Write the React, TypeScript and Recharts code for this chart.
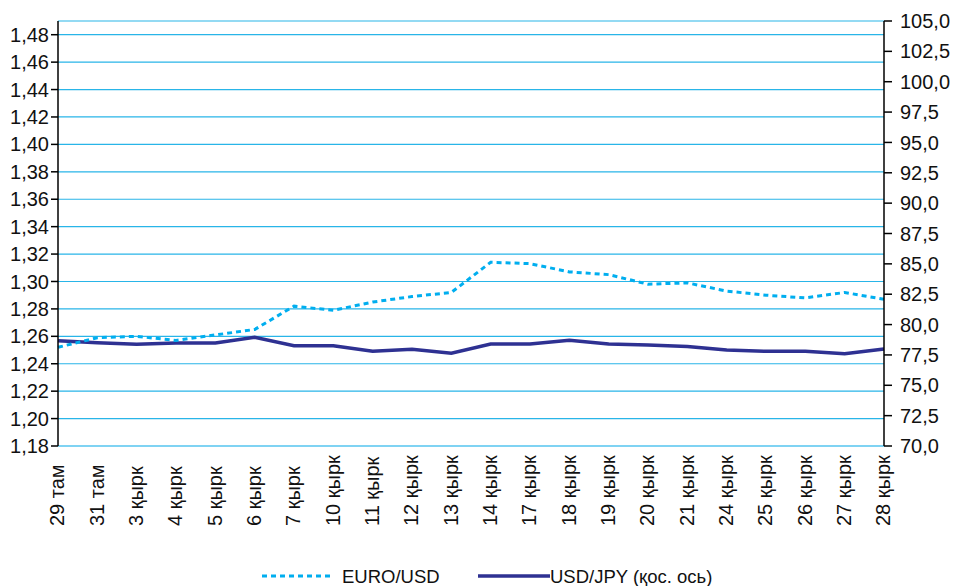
import { LineChart, Line, XAxis, YAxis, CartesianGrid } from "recharts";

const dates = [
  "29 там", "31 там", "3 қырк", "4 қырк", "5 қырк", "6 қырк", "7 қырк", "10 қырк",
  "11 қырк", "12 қырк", "13 қырк", "14 қырк", "17 қырк", "18 қырк", "19 қырк", "20 қырк",
  "21 қырк", "24 қырк", "25 қырк", "26 қырк", "27 қырк", "28 қырк",
];

const euroUsd = [
  1.252, 1.259, 1.260, 1.257, 1.261, 1.265, 1.282, 1.279, 1.285, 1.289, 1.292,
  1.314, 1.313, 1.307, 1.305, 1.298, 1.299, 1.293, 1.290, 1.288, 1.292, 1.287,
];

const usdJpy = [
  78.67, 78.5, 78.38, 78.48, 78.48, 78.95, 78.26, 78.26, 77.8, 77.97, 77.64,
  78.4, 78.4, 78.7, 78.4, 78.32, 78.2, 77.9, 77.8, 77.8, 77.6, 77.99,
];

const leftTicks = [1.18, 1.2, 1.22, 1.24, 1.26, 1.28, 1.3, 1.32, 1.34, 1.36, 1.38, 1.4, 1.42, 1.44, 1.46, 1.48];
const rightTicks = [70, 72.5, 75, 77.5, 80, 82.5, 85, 87.5, 90, 92.5, 95, 97.5, 100, 102.5, 105];

const data = dates.map((d, i) => ({ date: d, eur: euroUsd[i], jpy: usdJpy[i] }));

const FONT = "'Liberation Sans', Arial, sans-serif";
const GRID = "#29b5e8";
const EUR_C = "#00aeef";
const JPY_C = "#2e3192";

function DateTick({ x, y, payload }: any) {
  const ty = y + 72;
  return (
    <text
      x={x - 1}
      y={ty}
      dy="0.36em"
      transform={`rotate(-90, ${x - 1}, ${ty})`}
      textAnchor="start"
      fontSize={20}
      fontFamily={FONT}
      fill="#111"
    >
      {payload.value}
    </text>
  );
}

export default function App() {
  return (
    <div style={{ position: "absolute", left: 0, top: 0, width: 957, height: 586, background: "#fff", fontFamily: FONT }}>
      <LineChart width={957} height={545} data={data} margin={{ top: 21, right: 0, left: 0, bottom: 0 }}>
        <CartesianGrid yAxisId="left" vertical={false} stroke={GRID} strokeWidth={1.2} />
        <XAxis dataKey="date" height={99} interval={0} tickLine={false} axisLine={{ stroke: "#7fd3f3", strokeWidth: 2 }} tick={<DateTick />} />
        <YAxis
          yAxisId="left"
          domain={[1.18, 1.49]}
          ticks={leftTicks}
          width={58}
          interval={0}
          allowDataOverflow
          tickSize={7}
          tickMargin={2}
          axisLine={{ stroke: "#000", strokeWidth: 1.5 }}
          tickLine={{ stroke: "#000", strokeWidth: 1.5 }}
          tickFormatter={(v: number) => v.toFixed(2).replace(".", ",")}
          tick={{ fill: "#111", fontSize: 20, fontFamily: FONT }}
        />
        <YAxis
          yAxisId="right"
          orientation="right"
          domain={[70, 105]}
          ticks={rightTicks}
          width={73}
          interval={0}
          allowDataOverflow
          tickSize={8}
          tickMargin={8}
          axisLine={{ stroke: "#000", strokeWidth: 1.5 }}
          tickLine={{ stroke: "#000", strokeWidth: 1.5 }}
          tickFormatter={(v: number) => v.toFixed(1).replace(".", ",")}
          tick={{ fill: "#111", fontSize: 20, fontFamily: FONT }}
        />
        <Line yAxisId="right" type="linear" dataKey="jpy" stroke={JPY_C} strokeWidth={3.5} dot={false} isAnimationActive={false} />
        <Line yAxisId="left" type="linear" dataKey="eur" stroke={EUR_C} strokeWidth={3} strokeDasharray="5 4" dot={false} isAnimationActive={false} />
      </LineChart>
      <div style={{ position: "absolute", left: 0, top: 562, width: 957, height: 24 }}>
        <svg width={957} height={24} style={{ position: "absolute", left: 0, top: 0 }}>
          <line x1={262} x2={330} y1={14} y2={14} stroke={EUR_C} strokeWidth={3} strokeDasharray="5 4" />
          <line x1={478} x2={550} y1={14} y2={14} stroke={JPY_C} strokeWidth={3.5} />
          <text x={342} y={14} dy="0.36em" fontSize={18.5} fontFamily={FONT} fill="#111">EURO/USD</text>
          <text x={550} y={14} dy="0.36em" fontSize={18.5} fontFamily={FONT} fill="#111">USD/JPY (қос. ось)</text>
        </svg>
      </div>
    </div>
  );
}
